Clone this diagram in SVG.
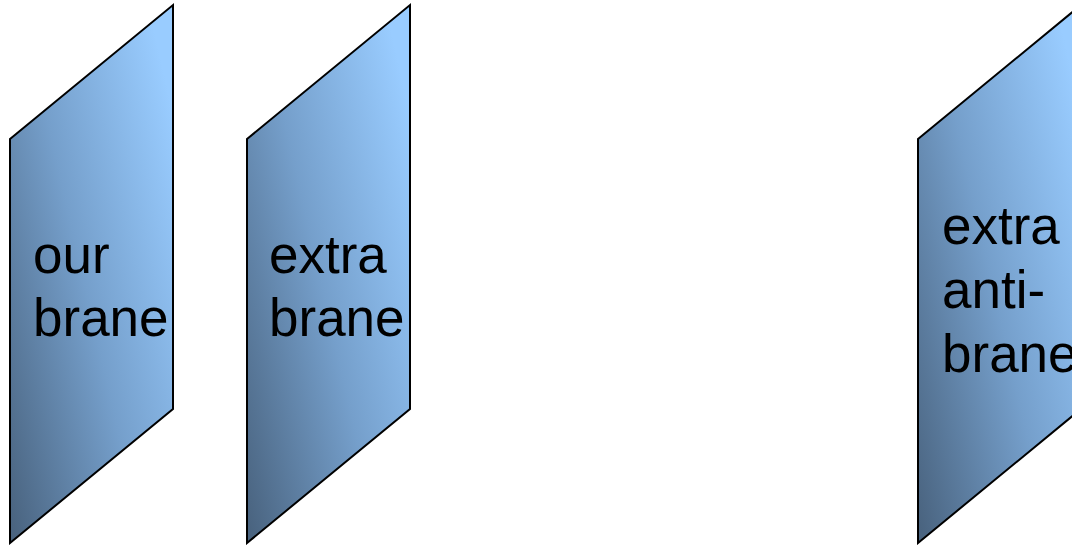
<svg xmlns="http://www.w3.org/2000/svg" width="1072" height="545" viewBox="0 0 1072 545">
<style>
.brane{stroke:#000;stroke-width:2;stroke-linejoin:miter;fill:url(#g)}
.lbl{font-family:"Liberation Sans",Arial,sans-serif;font-size:53px;fill:#000}
</style>
<defs>
<linearGradient id="g" x1="0" y1="0.95" x2="1" y2="0.2">
<stop offset="0" stop-color="#4a6480"/>
<stop offset="0.5" stop-color="#759fcb"/>
<stop offset="1" stop-color="#99ccff"/>
</linearGradient>
</defs>
<rect width="1072" height="545" fill="#fff"/>
<g id="our-brane">
<polygon class="brane" points="10,139 173,5 173,409 10,543"/>
<text class="lbl" x="33" y="273">our</text>
<text class="lbl" x="33" y="336">brane</text>
</g>
<g id="extra-brane">
<polygon class="brane" points="247,139 410,5 410,409 247,543"/>
<text class="lbl" x="269" y="273">extra</text>
<text class="lbl" x="269" y="336">brane</text>
</g>
<g id="extra-anti-brane">
<polygon class="brane" points="918,139 1081,5 1081,409 918,543"/>
<text class="lbl" x="942" y="244">extra</text>
<text class="lbl" x="942" y="308">anti-</text>
<text class="lbl" x="942" y="372">brane</text>
</g>
<g id="connectors"/>
</svg>
